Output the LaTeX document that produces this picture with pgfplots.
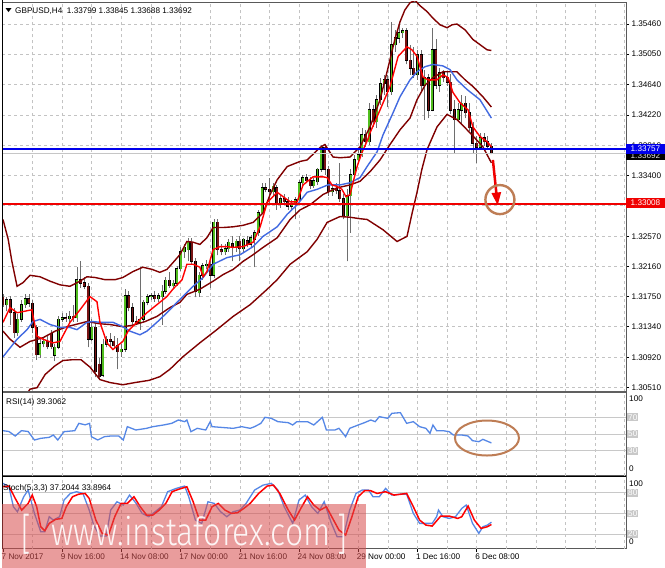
\documentclass[border=0pt]{standalone}
\usepackage{fontspec}
\setmainfont{Liberation Sans}
\newfontfamily\wmfont{Fira Sans Light}
\usepackage{pgfplots}
\pgfplotsset{compat=1.18}
\usepackage{pgfplotstable}
\usetikzlibrary{arrows.meta}

\definecolor{bullc}{RGB}{80,190,30}
\definecolor{bearc}{RGB}{120,20,20}
\definecolor{bbc}{RGB}{128,0,0}
\definecolor{mared}{RGB}{255,0,0}
\definecolor{mablue}{RGB}{65,105,225}
\definecolor{gridc}{RGB}{195,195,195}
\definecolor{wickc}{RGB}{110,110,110}
\definecolor{hblue}{RGB}{0,0,235}
\definecolor{hred}{RGB}{240,0,0}
\definecolor{circc}{RGB}{190,125,85}
\definecolor{wmc}{RGB}{215,75,75}
\definecolor{rsic}{RGB}{85,135,230}
\definecolor{levc}{RGB}{200,200,200}

\newcommand{\lbl}{\fontsize{8.2}{9}\selectfont}

\pgfplotstableread{
i o h l c
1 1.3164 1.3175 1.3155 1.3171
4 1.3126 1.3151 1.3122 1.3144
5 1.3144 1.3171 1.3141 1.3164
6 1.3164 1.3178 1.3160 1.3172
10 1.3096 1.3117 1.3092 1.3111
11 1.3111 1.3119 1.3106 1.3114
14 1.3095 1.3110 1.3087 1.3106
15 1.3106 1.3149 1.3103 1.3144
16 1.3144 1.3152 1.3140 1.3146
18 1.3145 1.3155 1.3141 1.3148
20 1.3146 1.3215 1.3141 1.3198
24 1.3117 1.3144 1.3114 1.3133
27 1.3068 1.3117 1.3065 1.3110
28 1.3110 1.3122 1.3106 1.3117
32 1.3100 1.3110 1.3093 1.3103
33 1.3103 1.3185 1.3100 1.3176
37 1.3140 1.3215 1.3130 1.3144
38 1.3144 1.3171 1.3140 1.3167
39 1.3167 1.3179 1.3163 1.3175
40 1.3175 1.3180 1.3171 1.3176
42 1.3172 1.3180 1.3168 1.3176
43 1.3175 1.3191 1.3137 1.3182
44 1.3182 1.3201 1.3179 1.3197
46 1.3190 1.3198 1.3185 1.3193
47 1.3193 1.3217 1.3190 1.3213
48 1.3213 1.3242 1.3210 1.3236
49 1.3236 1.3247 1.3228 1.3242
50 1.3239 1.3255 1.3223 1.3249
53 1.3180 1.3209 1.3175 1.3204
54 1.3204 1.3221 1.3198 1.3217
55 1.3217 1.3225 1.3212 1.3219
57 1.3204 1.3280 1.3200 1.3276
60 1.3236 1.3246 1.3232 1.3240
61 1.3240 1.3253 1.3236 1.3249
63 1.3242 1.3253 1.3236 1.3250
65 1.3240 1.3255 1.3236 1.3253
67 1.3246 1.3259 1.3243 1.3255
68 1.3253 1.3266 1.3215 1.3262
69 1.3262 1.3293 1.3258 1.3289
70 1.3289 1.3330 1.3287 1.3323
73 1.3318 1.3329 1.3312 1.3325
75 1.3300 1.3314 1.3296 1.3308
78 1.3298 1.3307 1.3293 1.3302
79 1.3300 1.3311 1.3280 1.3307
80 1.3307 1.3334 1.3304 1.3330
81 1.3330 1.3341 1.3326 1.3337
84 1.3326 1.3337 1.3323 1.3333
85 1.3331 1.3350 1.3327 1.3348
86 1.3348 1.3382 1.3345 1.3378
89 1.3318 1.3327 1.3312 1.3322
93 1.3285 1.3321 1.3223 1.3312
94 1.3312 1.3348 1.3262 1.3341
95 1.3341 1.3368 1.3337 1.3361
96 1.3361 1.3375 1.3355 1.3368
97 1.3368 1.3405 1.3365 1.3395
99 1.3386 1.3439 1.3382 1.3429
101 1.3413 1.3450 1.3405 1.3443
102 1.3443 1.3473 1.3436 1.3465
103 1.3465 1.3476 1.3450 1.3470
105 1.3454 1.3549 1.3450 1.3518
106 1.3518 1.3538 1.3508 1.3527
107 1.3527 1.3545 1.3520 1.3534
108 1.3534 1.3541 1.3527 1.3537
112 1.3477 1.3511 1.3470 1.3504
114 1.3462 1.3484 1.3416 1.3473
116 1.3429 1.3541 1.3427 1.3511
118 1.3463 1.3486 1.3454 1.3480
123 1.3416 1.3439 1.3413 1.3429
124 1.3429 1.3450 1.3409 1.3438
129 1.3378 1.3398 1.3375 1.3391
}\bull

\pgfplotstableread{
i o h l c
0 1.3174 1.3179 1.3161 1.3164
2 1.3171 1.3176 1.3136 1.3153
3 1.3153 1.3159 1.3119 1.3126
7 1.3172 1.3179 1.3161 1.3166
8 1.3166 1.3171 1.3126 1.3133
9 1.3133 1.3137 1.3089 1.3096
12 1.3114 1.3122 1.3103 1.3107
13 1.3125 1.3130 1.3103 1.3107
17 1.3146 1.3152 1.3141 1.3145
19 1.3148 1.3164 1.3141 1.3146
21 1.3198 1.3223 1.3187 1.3193
22 1.3194 1.3201 1.3185 1.3189
23 1.3189 1.3194 1.3106 1.3117
25 1.3133 1.3141 1.3065 1.3073
26 1.3083 1.3092 1.3062 1.3066
29 1.3117 1.3125 1.3108 1.3114
30 1.3114 1.3122 1.3103 1.3108
31 1.3108 1.3119 1.3076 1.3100
34 1.3176 1.3182 1.3155 1.3160
35 1.3160 1.3166 1.3134 1.3141
36 1.3141 1.3149 1.3136 1.3140
41 1.3176 1.3182 1.3168 1.3172
45 1.3197 1.3208 1.3187 1.3190
51 1.3249 1.3255 1.3219 1.3223
52 1.3223 1.3228 1.3174 1.3182
56 1.3219 1.3223 1.3187 1.3204
58 1.3276 1.3280 1.3231 1.3239
59 1.3239 1.3247 1.3231 1.3236
62 1.3247 1.3257 1.3223 1.3242
64 1.3250 1.3258 1.3223 1.3240
66 1.3251 1.3258 1.3242 1.3246
71 1.3323 1.3329 1.3317 1.3321
72 1.3321 1.3337 1.3300 1.3318
74 1.3323 1.3327 1.3293 1.3300
76 1.3308 1.3314 1.3300 1.3304
77 1.3304 1.3310 1.3293 1.3298
82 1.3337 1.3342 1.3329 1.3333
83 1.3333 1.3338 1.3322 1.3326
87 1.3378 1.3383 1.3341 1.3348
88 1.3348 1.3353 1.3312 1.3318
90 1.3322 1.3329 1.3314 1.3319
91 1.3319 1.3357 1.3304 1.3308
92 1.3308 1.3314 1.3280 1.3285
98 1.3395 1.3402 1.3379 1.3386
100 1.3429 1.3436 1.3406 1.3413
104 1.3470 1.3476 1.3433 1.3454
109 1.3537 1.3541 1.3491 1.3497
110 1.3497 1.3518 1.3477 1.3486
111 1.3486 1.3515 1.3473 1.3477
113 1.3504 1.3511 1.3454 1.3462
115 1.3473 1.3478 1.3418 1.3429
117 1.3511 1.3525 1.3457 1.3463
119 1.3480 1.3484 1.3467 1.3473
120 1.3473 1.3481 1.3462 1.3467
121 1.3467 1.3478 1.3423 1.3429
122 1.3429 1.3443 1.3371 1.3416
125 1.3438 1.3448 1.3418 1.3425
126 1.3425 1.3438 1.3401 1.3405
127 1.3405 1.3412 1.3371 1.3384
128 1.3384 1.3394 1.3357 1.3378
130 1.3391 1.3398 1.3380 1.3386
131 1.3386 1.3394 1.3375 1.3380
132 1.33799 1.33845 1.33688 1.33692
}\bear

\pgfplotsset{
  mt/.style={
    scale only axis, width=624bp, xmin=-0.27, xmax=168.38,
    axis line style={draw=gray!70!black, line width=0.7bp},
    xtick=\empty, ytick=\empty,
    extra x ticks={8,16,...,168}, extra x tick labels={},
    extra x tick style={grid=major, major tick length=0pt},
    major grid style={draw=gridc, dash pattern=on 3bp off 3bp, line width=0.6bp},
    tick style={draw=black, line width=0.6bp}, major tick length=3bp, tick align=outside,
    tick label style={font=\lbl},
    clip mode=individual,
  },
  nomark/.style={only marks, mark=*, mark size=0pt, mark options={draw=none, fill=none}},
  wick/.style={nomark, error bars/.cd, y dir=plus, y explicit, error mark=none,
    error bar style={draw=wickc, line width=0.7bp}},
  bodyout/.style={nomark, error bars/.cd, y dir=plus, y explicit, error mark=none,
    error bar style={draw=black, line width=3bp}},
  bodyin/.style={nomark, error bars/.cd, y dir=plus, y explicit, error mark=none,
    error bar style={draw=#1, line width=1.8bp}},
}
\tikzset{
  lvlbox/.style={anchor=west, font=\lbl, fill=levc, text=white, inner sep=1bp, xshift=1bp},
  sidelbl/.style={anchor=west, font=\lbl, inner sep=0pt, xshift=3bp},
}

\begin{document}
\begin{tikzpicture}
\useasboundingbox (0,0) rectangle (665bp,-568bp);
\fill[white] (0,0) rectangle (665bp,-568bp);

% ================= MAIN PRICE PANEL =================
\begin{axis}[mt, at={(2bp,-2bp)}, anchor=north west, height=389.5bp,
  ymin=1.30458, ymax=1.35760,
  ytick={1.3051,1.3092,1.3134,1.3175,1.3216,1.3257,1.3299,1.3340,1.3381,1.3422,1.3464,1.3505,1.3546},
  yticklabels={1.30510,1.30920,1.31340,1.31750,1.32160,1.32570,1.32990,1.33400,1.33810,1.34220,1.34640,1.35050,1.35460},
  ytick pos=right, yticklabel pos=right, ymajorgrids,
  yticklabel style={anchor=west, xshift=-1bp},
]
% candles
\addplot[wick] table[x=i, y=l, y error plus expr=\thisrow{h}-\thisrow{l}] {\bull};
\addplot[wick] table[x=i, y=l, y error plus expr=\thisrow{h}-\thisrow{l}] {\bear};
\addplot[bodyout] table[x=i, y expr=\thisrow{o}-0.00007, y error plus expr=\thisrow{c}-\thisrow{o}+0.00014] {\bull};
\addplot[bodyin=bullc] table[x=i, y=o, y error plus expr=\thisrow{c}-\thisrow{o}] {\bull};
\addplot[bodyout] table[x=i, y expr=\thisrow{c}-0.00007, y error plus expr=\thisrow{o}-\thisrow{c}+0.00014] {\bear};
\addplot[bodyin=bearc] table[x=i, y=c, y error plus expr=\thisrow{o}-\thisrow{c}] {\bear};

% Bollinger bands
\addplot[bbc, line width=1.4bp] coordinates {(0,1.3280)(1.4,1.3253)(2.4,1.3223)(3.8,1.3189)(5.4,1.3194)(7.3,1.3204)(10,1.3202)(12.7,1.3196)(15.4,1.3191)(18.1,1.3189)(20.8,1.3196)(22.7,1.3202)(24.9,1.3201)(27.6,1.3198)(30.3,1.3198)(32.4,1.3201)(35.1,1.3209)(37.8,1.3215)(40.3,1.3212)(42.4,1.3208)(44.3,1.3212)(45.9,1.3221)(47.8,1.3232)(49.7,1.3250)(51.4,1.3249)(53.2,1.3246)(55.1,1.3255)(56.8,1.3269)(59.5,1.3269)(62.2,1.3270)(64.9,1.3272)(67.6,1.3276)(70.3,1.3289)(72.2,1.3314)(74.1,1.3334)(76.8,1.3352)(80.3,1.3359)(82.2,1.3361)(85.7,1.3378)(87,1.3382)(89.2,1.3365)(91.1,1.3364)(93.8,1.3365)(96.5,1.3379)(99.2,1.3406)(101.9,1.3443)(103.8,1.3481)(105.9,1.3525)(107.3,1.3549)(108.6,1.3565)(110,1.3575)(111.4,1.3578)(112.7,1.3571)(114.6,1.3563)(116.2,1.3554)(118.1,1.3545)(120,1.3541)(121.4,1.3545)(122.7,1.3546)(124.9,1.3538)(127,1.3525)(128.9,1.3518)(130.8,1.3511)(132,1.3510)};
\addplot[bbc, line width=1.4bp] coordinates {(0,1.3128)(1.9,1.3117)(4.6,1.3106)(7.3,1.3114)(10.8,1.3119)(14.1,1.3128)(17.3,1.3134)(22.7,1.3141)(26.2,1.3138)(28.9,1.3137)(32.4,1.3134)(35.1,1.3136)(38.4,1.3141)(41.6,1.3148)(45.1,1.3160)(47.8,1.3167)(49.7,1.3178)(53.2,1.3185)(56.8,1.3196)(59.5,1.3205)(62.2,1.3212)(64.9,1.3223)(67.6,1.3232)(70.3,1.3242)(74.1,1.3255)(77.6,1.3280)(80.3,1.3293)(83,1.3300)(86.5,1.3314)(90.3,1.3323)(93.8,1.3327)(96.5,1.3332)(99.2,1.3345)(101.9,1.3361)(104.6,1.3382)(107.3,1.3402)(110,1.3418)(111.9,1.3443)(114.1,1.3463)(116.2,1.3473)(118.9,1.3481)(122.7,1.3481)(124.9,1.3470)(127,1.3461)(129.7,1.3447)(132,1.3433)};
\addplot[bbc, line width=1.4bp] coordinates {(0,1.2975)(4.6,1.3028)(7.3,1.3049)(9.2,1.3051)(11.4,1.3069)(14.1,1.3081)(16.2,1.3088)(18.6,1.3089)(21.1,1.3089)(23.5,1.3079)(26.2,1.3062)(28.9,1.3058)(32.4,1.3055)(35.7,1.3058)(39.5,1.3061)(42.4,1.3066)(45.1,1.3076)(48.6,1.3093)(53.2,1.3112)(57.8,1.3130)(62.2,1.3148)(66.8,1.3164)(71.4,1.3185)(74.1,1.3198)(77.6,1.3219)(82.2,1.3236)(84.9,1.3253)(87.6,1.3276)(91.1,1.3284)(93.8,1.3283)(96.5,1.3281)(98.4,1.3280)(102.7,1.3266)(106.5,1.3250)(109.2,1.3257)(110.5,1.3287)(111.9,1.3317)(113.2,1.3348)(114.6,1.3375)(117.3,1.3406)(120,1.3423)(122.7,1.3416)(126.2,1.3398)(129.7,1.3379)(132,1.3357)};

% moving averages
\addplot[mablue, line width=1.4bp] coordinates {(0,1.3093)(3.8,1.3117)(6.5,1.3130)(8.1,1.3141)(10,1.3144)(12.7,1.3137)(15.4,1.3133)(18.1,1.3133)(20,1.3130)(22.7,1.3140)(24.3,1.3141)(26.2,1.3140)(29.7,1.3140)(32.4,1.3134)(34.3,1.3128)(37,1.3123)(38.9,1.3128)(41.6,1.3140)(44.3,1.3153)(47.8,1.3171)(51.4,1.3189)(54.1,1.3201)(56.8,1.3219)(60.5,1.3228)(64.1,1.3232)(67.6,1.3243)(70.3,1.3257)(74.1,1.3270)(76.8,1.3287)(79.5,1.3300)(82.2,1.3317)(84.9,1.3321)(87.8,1.3327)(91.1,1.3327)(93.8,1.3330)(96.5,1.3337)(98.4,1.3352)(101.1,1.3372)(102.7,1.3395)(105.4,1.3425)(107.3,1.3447)(110,1.3470)(111.9,1.3481)(114.1,1.3488)(116.2,1.3491)(118.9,1.3489)(120.8,1.3484)(122.7,1.3470)(125.4,1.3457)(128.9,1.3443)(132,1.3418)};
\addplot[mared, line width=1.4bp] coordinates {(0,1.3140)(1.9,1.3160)(3.8,1.3153)(7.8,1.3157)(9.2,1.3121)(10.8,1.3117)(13.5,1.3112)(15.4,1.3114)(18.1,1.3140)(20.8,1.3157)(23.5,1.3175)(25.4,1.3168)(26.2,1.3140)(28.1,1.3112)(29.7,1.3103)(32.4,1.3114)(33.8,1.3128)(36.2,1.3140)(38.9,1.3153)(41.6,1.3164)(44.3,1.3175)(45.9,1.3185)(48.4,1.3198)(49.7,1.3219)(51.4,1.3219)(53.2,1.3215)(54.1,1.3202)(55.1,1.3209)(56.8,1.3239)(58.6,1.3243)(60.5,1.3243)(62.2,1.3242)(64.9,1.3243)(67.6,1.3249)(69.5,1.3270)(71.4,1.3303)(74.1,1.3317)(77.6,1.3304)(79.5,1.3304)(81.1,1.3327)(83.8,1.3338)(86.5,1.3338)(87.6,1.3337)(88.9,1.3327)(90.3,1.3325)(91.6,1.3321)(92.7,1.3311)(93.8,1.3314)(95.7,1.3352)(97,1.3371)(98.6,1.3389)(99.2,1.3398)(101.9,1.3429)(104.6,1.3461)(106.8,1.3502)(109.2,1.3515)(110.5,1.3511)(111.9,1.3502)(112.7,1.3488)(113.5,1.3474)(114.9,1.3470)(117.3,1.3470)(118.9,1.3477)(120.3,1.3473)(121.6,1.3453)(123.5,1.3439)(125.7,1.3429)(127,1.3406)(128.9,1.3393)(130.8,1.3386)(132,1.3379)};

% horizontal levels
\addplot[gray!45, line width=1bp] coordinates {(-0.27,1.33692)(168.38,1.33692)};
\addplot[hblue, line width=2bp] coordinates {(-0.27,1.33757)(168.38,1.33757)};
\addplot[hred, line width=2bp] coordinates {(-0.27,1.33008)(168.38,1.33008)};

% annotations
\draw[hred, line width=2.5bp, -{Triangle[length=13bp,width=9bp]}] (axis cs:132.4,1.3361) -- (axis cs:133.7,1.3299);
\draw[circc, line width=2.4bp] (axis cs:134.3,1.3307) circle[radius=14.5bp];

% price boxes
\node[fill=black, text=gray!20, font=\lbl, minimum width=38.5bp, minimum height=9bp, inner sep=0pt, anchor=west, yshift=-1.5bp] at (axis cs:168.38,1.33692) {1.33692};
\node[fill=hblue, text=white, font=\lbl, minimum width=38.5bp, minimum height=9.5bp, inner sep=0pt, anchor=west] at (axis cs:168.38,1.33757) {1.33757};
\node[fill=hred, text=white, font=\lbl, minimum width=38.5bp, minimum height=10bp, inner sep=0pt, anchor=west, yshift=1.5bp] at (axis cs:168.38,1.33008) {1.33008};
\end{axis}

% ================= RSI PANEL =================
\begin{axis}[mt, at={(2bp,-392.3bp)}, anchor=north west, height=83.4bp, ymin=0, ymax=100]
\addplot[levc, line width=1bp] coordinates {(-0.27,70)(168.38,70)};
\addplot[levc, line width=1bp] coordinates {(-0.27,50)(168.38,50)};
\addplot[levc, line width=1bp] coordinates {(-0.27,30)(168.38,30)};
\addplot[rsic, line width=1.3bp] coordinates {(0,54)(1.6,53)(3.3,47.6)(5,54)(6.8,53)(8.5,42.8)(10.2,44.8)(12.5,46)(13.6,48.8)(14.8,42.8)(16.5,52.8)(19.4,54)(20.5,62.8)(22.2,61)(23.4,62.8)(23.9,46.8)(25.6,42.8)(27.4,46.8)(29.1,47.6)(31.3,47.6)(32.5,42.8)(33.6,58.8)(35.9,54.8)(38.8,56.8)(40.5,58.8)(43.4,60.8)(45.6,62.8)(47.4,66.8)(49.1,64.8)(49.7,66.8)(50.8,52.8)(52.5,56.8)(54.8,54.8)(56,64.8)(56.5,58.8)(58.8,58)(62.2,56.8)(64.5,58.8)(66.8,56.8)(68,58.8)(69.7,62.8)(70.8,70)(72.5,68.8)(74.3,64.8)(77.1,63.6)(78.3,60.8)(79.4,64.8)(82.3,64.8)(84,60.8)(86.3,70)(87.4,54.8)(89.7,54.8)(90.8,56.8)(92.6,46.8)(93.7,56.8)(96,60.8)(97.7,63.6)(99.4,66.8)(100.6,64.8)(101.7,70.8)(104,68.8)(105.1,74.8)(107.4,75.6)(109.1,62.8)(110.9,64.8)(112.6,58.8)(114.3,56.8)(115.4,50.8)(116.2,60.8)(117.2,54)(118.9,54)(120.6,52.8)(121.7,48.8)(124,48.8)(125.7,47.6)(126.9,42)(128.6,40.8)(129.7,43.6)(132,39.3)};
\draw[circc, line width=2bp] (axis cs:130.8,45.2) ellipse[x radius=32bp, y radius=17.5bp];
\node[sidelbl] at (axis cs:168.38,92.8) {100};
\node[sidelbl] at (axis cs:168.38,8) {0};
\node[lvlbox] at (axis cs:168.38,70) {70};
\node[lvlbox] at (axis cs:168.38,50) {50};
\node[lvlbox] at (axis cs:168.38,30) {30};
\end{axis}

% ================= STOCHASTIC PANEL =================
\begin{axis}[mt, at={(2bp,-476.7bp)}, anchor=north west, height=71.8bp, ymin=-1, ymax=103.3,
  xtick={0,16,...,128},
  xticklabels={7 Nov 2017,9 Nov 16:00,14 Nov 08:00,17 Nov 00:00,21 Nov 16:00,24 Nov 08:00,29 Nov 00:00,1 Dec 16:00,6 Dec 08:00},
  xtick pos=left, xticklabel style={anchor=north west, inner sep=0pt, xshift=-1.5bp, yshift=-2bp},
]
\addplot[levc, line width=1bp] coordinates {(-0.27,80)(168.38,80)};
\addplot[levc, line width=1bp] coordinates {(-0.27,50)(168.38,50)};
\addplot[levc, line width=1bp] coordinates {(-0.27,20)(168.38,20)};
\addplot[rsic, line width=1.3bp] coordinates {(0,93.6)(1.6,88.7)(2.8,59.7)(3.9,52.4)(5.6,74.2)(6.8,83.9)(8.5,50)(10.2,23.4)(11.3,23.4)(12.5,45.2)(13.6,40.3)(15.3,45.2)(16.5,69.4)(18.2,79)(19.9,81.5)(21.6,79)(23.3,54.8)(24.5,33.1)(26.2,17.1)(27.9,17.1)(29.1,54.8)(30.8,66.9)(32.5,62.1)(34.2,76.6)(36,64.5)(37.6,50)(39.4,45.2)(41.1,52.4)(42.8,59.7)(44.5,81.5)(46.8,86.3)(49.1,89.7)(50.2,74.2)(52,40.3)(53.7,35.5)(55.4,66.9)(57.1,64.5)(58.8,52.4)(60.5,45.2)(62.2,52.4)(64,54.8)(65.7,64.5)(68,83.9)(70.3,91.1)(72.5,93.6)(74.3,83.9)(76,59.7)(78.3,35.5)(80,69.4)(81.7,76.6)(83.4,59.7)(85.1,50)(86.8,66.9)(88.6,37.9)(90.3,16.1)(92,16.1)(93.7,54.8)(95.4,79)(97.1,83.9)(98.8,83.9)(100,74.2)(101.7,74.2)(103.4,86.3)(105.1,76.6)(107.4,78)(109.1,78)(110.9,50)(112.6,35.5)(114.3,35.5)(116,35.5)(117.2,45.2)(117.7,54.8)(118.9,45.2)(120.6,42.7)(122.3,45.2)(124,57.3)(125.2,62.1)(126.9,35.5)(128.6,21)(129.7,30.6)(130.9,33)(132,37.2)};
\addplot[mared, line width=1.5bp] coordinates {(0,88.7)(1.6,89.7)(3.3,71.8)(5.05,54.8)(6.8,64.5)(7.9,76.6)(9.1,59.7)(10.2,30.6)(11.3,24.8)(12.5,35.5)(14.2,41.3)(15.9,42.7)(17.1,59.7)(18.8,74.2)(20.5,78)(22.2,79)(23.3,71.8)(25.1,40.3)(26.8,21)(28.5,18.5)(30.2,45.2)(31.9,64.5)(33.6,64.5)(35.4,74.2)(37.1,59.7)(38.8,47.6)(40.5,47.6)(42.2,54.8)(44,64.5)(45.7,81.5)(47.4,84.9)(49.7,88.7)(51.4,66.9)(53.1,40.3)(54.8,40.3)(56.5,59.7)(58.2,64.5)(60,54.8)(61.7,50)(63.4,51)(65.1,57.3)(66.8,64.5)(69.1,79)(71.4,89.7)(73.1,91.1)(74.8,79)(77.1,54.8)(78.8,40.3)(80.5,57.3)(82.3,74.2)(84,62.1)(85.7,54.8)(87.4,59.7)(89.1,42.7)(90.8,25.8)(92.6,18.5)(94.3,45.2)(96,74.2)(97.7,82.9)(99.4,82.9)(101.1,79)(103.4,81.5)(105.7,76.6)(109.1,79)(110.9,59.7)(112.6,40.3)(114.3,33)(116,31.6)(118.3,46.1)(120.6,46.1)(122.9,42.7)(124,45.2)(125.7,60.7)(127.4,40.3)(129.2,28.2)(130.9,30.6)(132,33.9)};
\node[sidelbl] at (axis cs:168.38,92.7) {100};
\node[sidelbl] at (axis cs:168.38,8.4) {0};
\node[lvlbox] at (axis cs:168.38,80) {80};
\node[lvlbox] at (axis cs:168.38,50) {50};
\node[lvlbox] at (axis cs:168.38,20) {20};
\end{axis}

% separators and borders
\draw[gray!75!black, line width=2.5bp] (2bp,-392bp) -- (626bp,-392bp);
\draw[black, line width=1bp] (2bp,-476.7bp) -- (626bp,-476.7bp);
\draw[black, line width=1bp] (2.5bp,0bp) -- (2.5bp,-549bp);

% panel titles
\fill[black] (5.5bp,-8bp) -- (11.5bp,-8bp) -- (8.5bp,-12bp) -- cycle;
\node[anchor=base west, font=\lbl, inner sep=0pt] at (15bp,-13bp) {GBPUSD,H4\ \ 1.33799 1.33845 1.33688 1.33692};
\node[anchor=base west, font=\lbl, inner sep=0pt] at (6bp,-404bp) {RSI(14) 39.3062};
\node[anchor=base west, font=\lbl, inner sep=0pt] at (3bp,-490bp) {Stoch(5,3,3) 37.2044 33.8964};

% watermark
\fill[wmc, fill opacity=0.55] (2bp,-504bp) rectangle (366bp,-568bp);
\node[anchor=base, text=white, text opacity=0.9, inner sep=0pt, font=\wmfont\fontsize{44}{44}\selectfont, xscale=0.7] at (26bp,-549bp) {[};
\node[anchor=base, text=white, text opacity=0.9, inner sep=0pt, font=\wmfont\fontsize{39}{39}\selectfont, xscale=0.82] at (191bp,-545bp) {www.instaforex.com};
\node[anchor=base, text=white, text opacity=0.9, inner sep=0pt, font=\wmfont\fontsize{44}{44}\selectfont, xscale=0.7] at (342bp,-549bp) {]};
\end{tikzpicture}
\end{document}
